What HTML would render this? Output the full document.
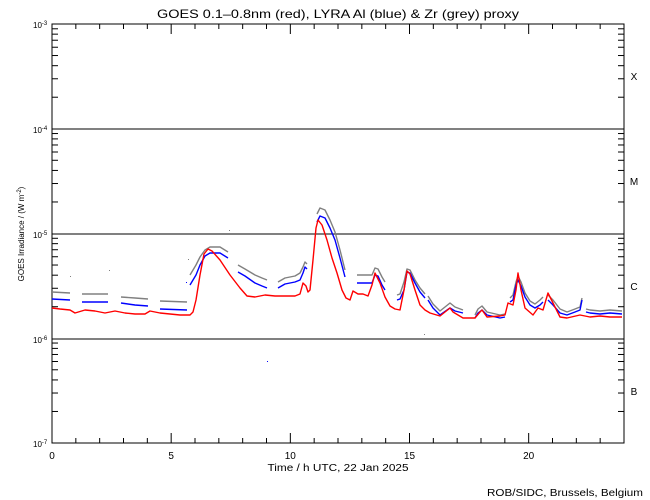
<!DOCTYPE html>
<html><head><meta charset="utf-8"><style>
html,body{margin:0;padding:0;background:#fff;}
svg{display:block;font-family:"Liberation Sans",sans-serif;}
</style></head><body>
<svg id="s" width="650" height="500" viewBox="0 0 650 500" xmlns="http://www.w3.org/2000/svg">
<rect width="650" height="500" fill="#fff"/>
<text x="338" y="18" font-size="12" text-anchor="middle" textLength="362" lengthAdjust="spacingAndGlyphs">GOES 0.1–0.8nm (red), LYRA Al (blue) &amp; Zr (grey) proxy</text>
<g id="ax" stroke="#000" stroke-width="1" fill="none"></g>
<line x1="52" y1="129" x2="624" y2="129" stroke="#000"/>
<line x1="52" y1="234" x2="624" y2="234" stroke="#000"/>
<line x1="52" y1="339" x2="624" y2="339" stroke="#000"/>
<rect x="52" y="24" width="572" height="419" fill="none" stroke="#000"/>
<g font-size="8">
<text x="33" y="28">10<tspan dy="-3" font-size="6">-3</tspan></text>
<text x="33" y="133">10<tspan dy="-3" font-size="6">-4</tspan></text>
<text x="33" y="238">10<tspan dy="-3" font-size="6">-5</tspan></text>
<text x="33" y="343">10<tspan dy="-3" font-size="6">-6</tspan></text>
<text x="33" y="447">10<tspan dy="-3" font-size="6">-7</tspan></text>
</g>
<g font-size="10" text-anchor="middle">
<text x="634" y="80">X</text><text x="634" y="185">M</text><text x="634" y="290">C</text><text x="634" y="395">B</text>
<text x="52" y="459">0</text><text x="171.2" y="459">5</text><text x="290.3" y="459">10</text><text x="409.5" y="459">15</text><text x="528.7" y="459">20</text>
<text x="338" y="471" textLength="141" lengthAdjust="spacingAndGlyphs">Time / h UTC, 22 Jan 2025</text>
</g>
<text x="643" y="496" font-size="10" text-anchor="end" textLength="156" lengthAdjust="spacingAndGlyphs">ROB/SIDC, Brussels, Belgium</text>
<text transform="translate(24,234) rotate(-90)" font-size="8" text-anchor="middle">GOES Irradiance / (W m<tspan dy="-3" font-size="6">-2</tspan><tspan dy="3">)</tspan></text>
<g fill="none" stroke-width="1.4" stroke-linejoin="round">
<g stroke="#808080">
<polyline points="52,292 70,293"/>
<polyline points="82,294 108,294"/>
<polyline points="121,297 135,298 148,299"/>
<polyline points="160,301 187,302"/>
<polyline points="190,275 196,265 200,257 205,250 210,247 220,247 228,252"/>
<polyline points="238,265 245,269 255,275 262,278 267,280"/>
<polyline points="278,282 285,278 295,276 300,273 303,267 305,262 307,264"/>
<polyline points="317,214 320,208 325,210 330,220 335,232 340,250 345,270"/>
<polyline points="357,275 365,275 372,275 375,268 378,269 382,277 385,282"/>
<polyline points="397,295 400,294 404,282 407,269 410,270 415,280 420,288 425,294"/>
<polyline points="428,296 433,304 440,311 450,303 455,307 463,310"/>
<polyline points="475,315 478,309 482,306 487,312 500,315 505,314"/>
<polyline points="510,298 513,295 516,282 518,276 521,282 525,293 530,301 535,304 540,300 543,297"/>
<polyline points="548,295 553,300 560,309 567,312 575,309 580,307 582,298"/>
<polyline points="586,309 590,310 600,311 610,310 622,311"/>
</g>
<g stroke="#0000ff">
<polyline points="52,299 70,300"/>
<polyline points="82,302 108,302"/>
<polyline points="121,303 135,305 148,306"/>
<polyline points="160,309 187,310"/>
<polyline points="190,285 196,275 200,265 205,256 210,253 220,253 228,258"/>
<polyline points="238,272 245,276 255,283 262,286 267,288"/>
<polyline points="278,288 285,284 295,282 300,280 303,273 305,267 307,269"/>
<polyline points="317,222 320,216 325,218 330,228 335,240 340,258 345,277"/>
<polyline points="357,283 365,283 372,283 375,275 378,276 382,285 385,290"/>
<polyline points="397,300 400,299 404,290 407,272 410,273 415,283 420,292 425,298"/>
<polyline points="428,300 433,308 440,315 450,308 455,311 463,313"/>
<polyline points="475,318 478,313 482,310 487,315 500,318 505,317"/>
<polyline points="510,302 513,300 516,285 518,280 521,286 525,297 530,305 535,308 540,305 543,302"/>
<polyline points="548,300 553,305 560,313 567,315 575,312 580,310 582,300"/>
<polyline points="586,312 590,313 600,314 610,313 622,314"/>
</g>
<polyline stroke="#ff0000" points="52,308 60,309 70,310 75,313 85,310 95,311 105,313 115,311 125,313 135,314 145,314 150,311 160,313 170,314 180,315 190,315 193,312 196,300 200,275 204,254 208,249 212,251 220,260 230,275 240,288 247,296 255,297 265,295 275,296 285,296 295,296 300,294 303,283 306,286 308,292 310,290 313,260 316,228 318,220 322,225 327,240 332,258 337,273 342,290 346,298 350,300 353,291 358,294 363,294 368,296 372,285 375,273 380,283 385,297 390,306 395,309 400,310 404,290 407,271 410,274 415,290 420,305 425,310 430,313 440,316 450,308 453,312 463,318 475,318 480,312 482,310 487,317 500,316 505,315 508,303 513,305 516,290 518,273 521,290 525,308 533,315 538,308 543,310 548,293 553,303 560,317 567,318 580,315 590,317 600,316 610,317 622,317"/>
</g>
<g fill="#808080"><rect x="229" y="230" width="1" height="1"/><rect x="70" y="276" width="1" height="1"/><rect x="109" y="270" width="1" height="1"/><rect x="188" y="259" width="1" height="1"/><rect x="424" y="334" width="1" height="1"/></g>
<g fill="#0000ff"><rect x="267" y="361" width="1" height="1"/><rect x="186" y="282" width="1" height="1"/></g>
</svg>
<script>
var ax=document.getElementById('ax'),h='';
function L(a,b,c,d){h+='<line x1="'+a+'" y1="'+b+'" x2="'+c+'" y2="'+d+'"/>';}
for(var i=0;i<=24;i++){var x=52+i*572/24,l=(i%5==0)?10:5;L(x,443,x,443-l);L(x,24,x,24+l);}
for(var d=0;d<4;d++){var y0=443-d*104.75;for(var k=2;k<=9;k++){var y=y0-Math.log10(k)*104.75;L(52,y,58,y);L(624,y,618,y);}}
ax.innerHTML=h;
</script>
</body></html>
